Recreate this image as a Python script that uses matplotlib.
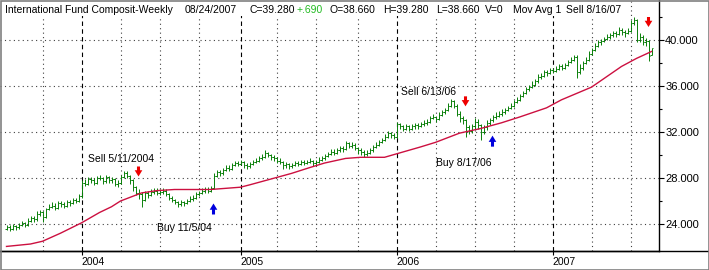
import numpy as np
import pandas as pd
import matplotlib
matplotlib.use("Agg")
import matplotlib.pyplot as plt
from matplotlib.patches import Rectangle
from matplotlib.lines import Line2D

# ---------------- data ----------------
title = "International Fund Composit-Weekly"
first_date = "2003-07-11"
last_date = "2007-08-24"
first_open = 23.6
hdr_open = 38.660
hdr_volume = 0

close_2003 = [23.7,23.6,23.8,23.7,23.9,24.1,23.9,24.3,24.5,24.4,24.9,25.0,24.6,25.3,25.5,25.6,25.4,25.8,25.7,25.6,25.9,25.8,26.1,26.0,26.4]
high_2003 = [23.9,23.9,24.0,23.9,24.1,24.3,24.2,24.5,24.7,24.7,25.1,25.2,25.1,25.4,25.7,25.9,25.8,26.0,26.0,25.9,26.1,26.1,26.3,26.3,26.6]
low_2003 = [23.5,23.4,23.5,23.5,23.6,23.8,23.7,23.8,24.2,24.2,24.3,24.7,24.2,24.5,25.2,25.4,25.2,25.3,25.5,25.4,25.5,25.6,25.7,25.8,25.9]

close_2004 = [27.6,27.5,27.9,27.8,27.6,28.0,28.0,27.7,28.1,27.8,27.9,27.5,27.6,28.1,28.4,28.2,27.8,27.2,26.7,26.6,26.1,26.7,26.5,26.8,26.9,26.7,26.8,26.9,26.6,26.3,26.1,25.9,25.7,25.9,25.8,26.0,26.2,26.3,26.6,26.7,26.9,27.0,26.9,27.1,28.2,28.5,28.4,28.7,28.9,28.8,29.1,29.3,29.2]
high_2004 = [27.8,27.9,28.1,28.1,28.0,28.2,28.3,28.1,28.3,28.2,28.1,28.0,27.8,28.3,28.6,28.6,28.3,27.9,27.3,27.0,26.8,26.9,26.9,27.0,27.1,27.1,27.0,27.1,27.0,26.7,26.4,26.2,26.0,26.1,26.0,26.2,26.4,26.5,26.8,26.9,27.1,27.2,27.2,27.3,28.4,28.7,28.7,28.9,29.1,29.1,29.3,29.5,29.5]
low_2004 = [26.3,27.3,27.4,27.6,27.4,27.5,27.8,27.5,27.6,27.6,27.6,27.3,27.2,27.5,28.0,28.0,27.5,26.9,26.5,26.2,25.5,26.0,26.3,26.4,26.6,26.5,26.5,26.6,26.4,26.1,25.9,25.7,25.5,25.6,25.6,25.7,25.9,26.0,26.2,26.4,26.6,26.7,26.7,26.8,27.0,28.1,28.2,28.3,28.6,28.6,28.7,29.0,29.0]

close_2005 = [29.4,29.1,29.0,29.2,29.4,29.5,29.7,29.8,30.2,30.0,29.8,29.7,29.5,29.4,29.1,29.2,29.0,29.1,29.3,29.2,29.4,29.3,29.4,29.5,29.3,29.4,29.6,29.7,29.9,30.1,30.3,30.2,30.4,30.6,30.5,31.0,30.8,30.9,30.6,30.4,30.3,30.1,30.2,30.4,30.7,30.9,31.1,31.3,31.6,31.9,31.7,31.6]
high_2005 = [29.6,29.5,29.3,29.4,29.6,29.7,29.9,30.1,30.4,30.3,30.1,30.0,29.8,29.7,29.5,29.4,29.3,29.3,29.5,29.5,29.6,29.6,29.6,29.7,29.6,29.6,29.8,29.9,30.1,30.3,30.5,30.5,30.6,30.8,30.8,31.2,31.1,31.1,31.0,30.7,30.6,30.4,30.4,30.6,30.9,31.1,31.3,31.5,31.8,32.1,32.0,31.9]
low_2005 = [29.1,28.9,28.8,28.9,29.1,29.3,29.4,29.6,29.7,29.8,29.6,29.5,29.3,29.2,28.8,28.9,28.8,28.9,29.0,29.0,29.1,29.1,29.2,29.3,29.0,29.1,29.3,29.5,29.6,29.8,30.0,30.0,30.1,30.3,30.3,30.4,30.6,30.6,30.4,30.1,30.0,29.8,29.9,30.1,30.3,30.6,30.8,31.0,31.2,31.5,31.5,31.4]

close_2006 = [32.7,32.5,32.3,32.5,32.3,32.5,32.6,32.5,32.7,32.8,32.9,33.2,33.3,33.1,33.5,33.7,33.9,34.3,34.7,34.3,33.6,33.2,33.0,32.4,32.1,32.5,32.9,32.6,32.0,32.4,32.8,33.0,33.3,33.4,33.6,33.7,33.9,34.1,34.3,34.6,34.8,35.1,35.4,35.7,35.9,36.1,36.4,36.8,36.9,37.2,37.1,37.4]
high_2006 = [32.9,32.8,32.6,32.7,32.6,32.7,32.8,32.8,32.9,33.0,33.1,33.4,33.6,33.4,33.7,33.9,34.1,34.5,34.9,34.8,34.4,33.8,33.4,33.1,32.6,32.7,33.2,33.1,32.7,32.6,33.0,33.2,33.5,33.7,33.8,34.0,34.1,34.3,34.5,34.8,35.0,35.3,35.6,35.9,36.1,36.4,36.6,37.0,37.1,37.4,37.4,37.6]
low_2006 = [31.5,32.3,32.1,32.2,32.1,32.2,32.3,32.3,32.4,32.5,32.6,32.8,33.1,32.9,33.0,33.4,33.6,33.8,34.2,34.1,33.4,32.9,32.7,31.6,31.8,31.9,32.3,32.3,31.3,31.8,32.2,32.6,32.9,33.1,33.3,33.4,33.6,33.8,34.0,34.2,34.5,34.7,35.0,35.3,35.6,35.8,36.0,36.3,36.6,36.8,36.9,37.0]

close_2007 = [37.3,37.5,37.7,37.6,37.8,38.1,38.3,38.5,37.2,37.6,38.0,38.3,38.8,39.1,39.5,39.8,39.9,40.1,40.3,40.4,40.6,40.5,40.9,40.7,40.6,40.8,41.5,41.7,40.0,40.3,39.8,39.9,38.59,39.28]
high_2007 = [37.6,37.7,37.9,37.9,38.0,38.3,38.5,38.7,38.7,37.9,38.2,38.5,39.0,39.3,39.7,40.0,40.1,40.3,40.5,40.6,40.8,40.8,41.1,41.0,40.9,41.0,41.7,42.0,41.8,40.6,40.4,40.2,40.0,39.28]
low_2007 = [37.1,37.2,37.4,37.4,37.5,37.7,38.0,38.2,36.7,37.0,37.4,37.9,38.2,38.7,39.0,39.4,39.6,39.8,40.0,40.1,40.3,40.3,40.4,40.4,40.3,40.5,40.7,41.3,39.8,39.8,39.6,39.5,38.2,38.66]

ma_dates = ["2003-07-11","2003-09-05","2003-10-03","2003-11-14","2004-01-02","2004-02-13",
            "2004-03-12","2004-04-02","2004-05-21","2004-06-25","2004-08-06","2004-09-24",
            "2004-10-29","2005-01-07","2005-01-28","2005-03-18","2005-05-06","2005-06-17",
            "2005-07-22","2005-09-09","2005-10-14","2005-12-09","2006-01-06","2006-03-03",
            "2006-04-07","2006-06-02","2006-07-21","2006-09-08","2006-10-20","2006-12-22",
            "2007-01-26","2007-04-06","2007-05-11","2007-06-15","2007-07-20","2007-08-24"]
ma_values = [22.05,22.26,22.5,23.2,24.1,25.0,25.5,26.0,26.7,26.9,27.0,27.0,
             27.0,27.2,27.4,27.9,28.4,28.9,29.3,29.7,29.8,29.8,30.1,30.7,
             31.1,31.9,32.3,32.8,33.3,34.1,34.8,35.9,36.8,37.7,38.4,39.0]

signal_dates = ["2004-05-11","2004-11-05","2006-06-13","2006-08-17","2007-08-16"]
signal_types = ["sell","buy","sell","buy","sell"]
signal_labels = ["Sell 5/11/2004","Buy 11/5/04","Sell 6/13/06","Buy 8/17/06","Sell 8/16/07"]

y_ticks = [24, 28, 32, 36, 40]
y_minor = [26, 30, 34, 38, 42]

# ---------------- layout ----------------
W, H = 709, 270
FONT = ["Liberation Sans", "DejaVu Sans"]
plt.rcParams["font.family"] = FONT
label_px = [(88, 159), (157, 228), (401, 92), (436, 163), (566, 10)]  # text left/center-y (pixels)

def fx(px):
    return px / W

def fy(py):
    return 1 - py / H

dates = pd.date_range(first_date, last_date, freq="W-FRI")
close = np.array(close_2003 + close_2004 + close_2005 + close_2006 + close_2007)
high = np.array(high_2003 + high_2004 + high_2005 + high_2006 + high_2007)
low = np.array(low_2003 + low_2004 + low_2005 + low_2006 + low_2007)
n = len(close)
assert len(dates) == n == len(high) == len(low)
idx = np.arange(n)
opens = np.r_[first_open, close[:-1]]
opens[-1] = hdr_open

def date_to_idx(d):
    return int(np.searchsorted(dates.values, np.datetime64(pd.Timestamp(d))))

fig = plt.figure(figsize=(W / 100, H / 100), dpi=100)
fig.patch.set_facecolor("white")
ax = fig.add_axes([0, 19 / H, 659 / W, 251 / H])
ax.set_facecolor("white")
ax.set_xlim(-2.1667, 217.5)
ax.set_ylim(21.652, 43.478)

# grid
for v in y_ticks:
    ax.axhline(v, color="#404040", lw=0.8, ls=(0, (1, 3)), zorder=1)
years = dates.year.values
months = dates.month.values
for i in range(1, n):
    if years[i] != years[i - 1]:
        ax.axvline(i, color="black", lw=0.8, ls=(0, (4, 3)), zorder=1)
    elif months[i] != months[i - 1] and months[i] in (4, 7, 10):
        ax.axvline(i, color="#404040", lw=0.8, ls=(0, (1, 3)), zorder=1)

# OHLC bars
green = "#0a800a"
ax.vlines(idx, low, high, color=green, lw=0.7, zorder=3)
ax.hlines(opens, idx - 0.34, idx, color=green, lw=0.7, zorder=3)
ax.hlines(close, idx, idx + 0.34, color=green, lw=0.7, zorder=3)

# moving average
ma_idx = [date_to_idx(d) for d in ma_dates]
ax.plot(ma_idx, ma_values, color="#cc1040", lw=1.0, zorder=4)

# signals
fig.canvas.draw()
for d, t in zip(signal_dates, signal_types):
    i = date_to_idx(d)
    if t == "sell":
        base = ax.transData.transform((i, high[i]))
        tip = base + (0, 13)
        tail = tip + (0, 10)
        col = "#ee0000"
    else:
        base = ax.transData.transform((i, low[i]))
        tip = base - (0, 14)
        tail = tip - (0, 11)
        col = "#0000dd"
    inv = ax.transData.inverted()
    ax.annotate("", xy=inv.transform(tip), xytext=inv.transform(tail),
                arrowprops=dict(arrowstyle="simple,head_length=0.45,head_width=0.55,tail_width=0.22",
                                color=col, lw=0, shrinkA=0, shrinkB=0), zorder=6)

# white band behind header
fig.add_artist(Rectangle((0, fy(16)), fx(625), 16 / H, transform=fig.transFigure,
                         facecolor="white", edgecolor="none", zorder=2))

fs = 7.5
hdr_y = fy(10)
chg = close[-1] - close[-2]
chg_txt = f"{chg:+.3f}".replace("0.", ".")
hdr = [(5, title, "black"),
       (185, dates[-1].strftime("%m/%d/%Y"), "black"),
       (250, f"C={close[-1]:.3f}", "black"),
       (297, chg_txt, "#22bb22"),
       (330, f"O={hdr_open:.3f}", "black"),
       (383, f"H={high[-1]:.3f}", "black"),
       (436, f"L={low[-1]:.3f}", "black"),
       (485, f"V={hdr_volume}", "black"),
       (513, "Mov Avg 1", "black")]
for px, txt, col in hdr:
    fig.text(fx(px), hdr_y, txt, color=col, fontsize=fs, va="center", ha="left", zorder=5)

for (px, py), lab in zip(label_px, signal_labels):
    fig.text(fx(px), fy(py), lab, fontsize=fs, va="center", ha="left", color="black", zorder=5)

# axes styling
for s in ("left", "top"):
    ax.spines[s].set_visible(False)
ax.spines["right"].set_color("black")
ax.spines["right"].set_linewidth(1.0)
ax.spines["bottom"].set_linewidth(1.0)
ax.yaxis.tick_right()
ax.set_yticks(y_ticks)
ax.set_yticklabels([f"{v:.3f}" for v in y_ticks])
ax.set_yticks(y_minor, minor=True)
ax.tick_params(axis="y", which="major", length=3.6, width=0.8, pad=0.8, labelsize=8.0, colors="black")
ax.tick_params(axis="y", which="minor", length=2.2, width=0.8)

year_idx = [i for i in range(1, n) if years[i] != years[i - 1]]
ax.set_xticks(year_idx)
ax.set_xticklabels([str(years[i]) for i in year_idx], ha="left")
ax.tick_params(axis="x", which="major", length=3.2, width=0.8, pad=1.0, labelsize=fs)
ax.tick_params(axis="x", which="minor", length=0)

# bottom line extended to right edge, outer frame
fig.add_artist(Line2D([0, 1], [19 / H, 19 / H], color="black", lw=1.0, transform=fig.transFigure))
fig.add_artist(Rectangle((0.5 / W, 0.5 / H), 1 - 1 / W, 1 - 1 / H, transform=fig.transFigure,
                         facecolor="none", edgecolor="#808080", lw=1.2, zorder=10))

fig.savefig("out.png", dpi=100, facecolor="white")
